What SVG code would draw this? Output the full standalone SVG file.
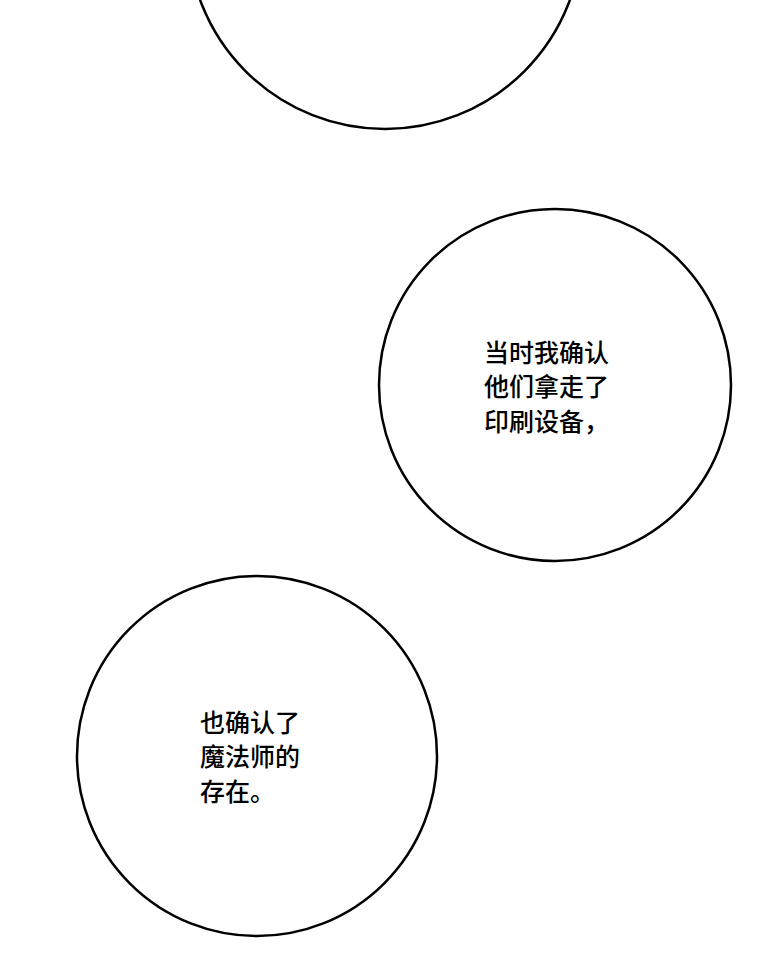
<svg xmlns="http://www.w3.org/2000/svg" width="760" height="960" viewBox="0 0 760 960">
<style>
.b{fill:#fff;stroke:#000;stroke-width:2.5}
.t{font-family:"Noto Sans CJK SC","Noto Sans",sans-serif;font-size:25px;font-weight:500;fill:#000}
</style>
<rect width="760" height="960" fill="#fff"/>
<g id="bubble1"><circle class="b" cx="385" cy="-68" r="197"/></g>
<g id="bubble2"><circle class="b" cx="555" cy="385" r="176"/>
<text class="t" x="484" y="362">当时我确认</text>
<text class="t" x="484" y="396">他们拿走了</text>
<text class="t" x="484" y="431">印刷设备，</text></g>
<g id="bubble3"><circle class="b" cx="257" cy="756" r="180"/>
<text class="t" x="200" y="732">也确认了</text>
<text class="t" x="200" y="766">魔法师的</text>
<text class="t" x="200" y="801">存在。</text></g>
<g id="connectors"/>
</svg>
